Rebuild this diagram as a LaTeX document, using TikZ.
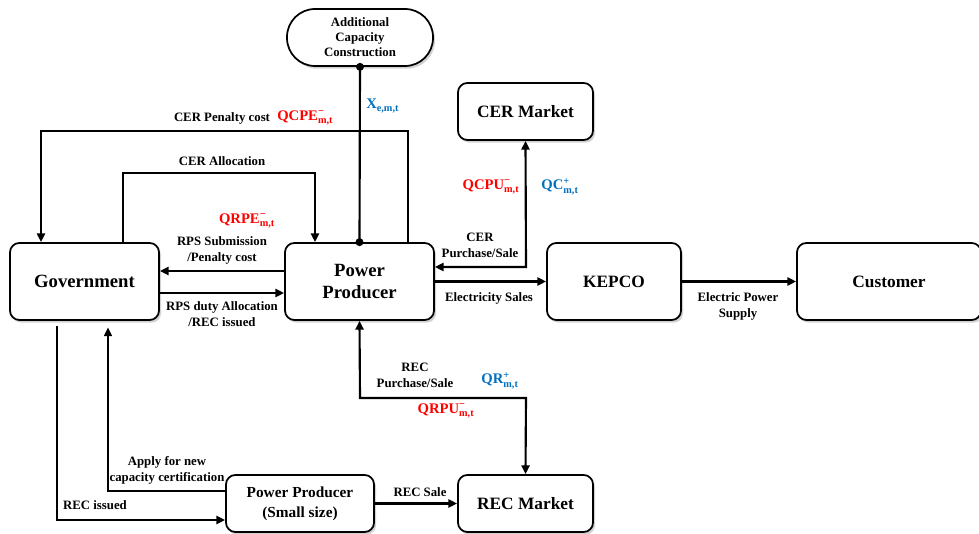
\documentclass[tikz,border=0pt]{standalone}
\usepackage{fontspec}
\usepackage{amsmath}
\setmainfont{Liberation Serif}
\usetikzlibrary{arrows.meta,shadows}
\definecolor{qred}{RGB}{255,0,0}
\definecolor{qblue}{RGB}{0,112,192}
\newcommand{\qlab}[3]{\textbf{#1$^{\text{\bfseries #2}}_{\text{\bfseries #3}}$}}
\begin{document}
\begin{tikzpicture}[x=0.75pt,y=-0.75pt,
  box/.style={draw=black, line width=1.3pt, rounded corners=7pt, fill=white,
    align=center, inner sep=0pt,
    drop shadow={shadow xshift=1.5pt, shadow yshift=-2pt, opacity=0.25, fill=black!70}},
  bigbox/.style={box, minimum width=111.75pt, minimum height=57.75pt, font=\bfseries\fontsize{14}{16}\selectfont},
  midbox/.style={box, minimum width=100.5pt, minimum height=57.75pt, font=\bfseries\fontsize{13}{15}\selectfont},
  mktbox/.style={box, minimum width=101.25pt, minimum height=42.75pt, font=\bfseries\fontsize{13}{15}\selectfont},
  link/.style={line width=1.6pt, -{Triangle[length=6.5pt,width=6pt]}},
  duallink/.style={line width=1.6pt, {Triangle[length=6.5pt,width=6pt]}-{Triangle[length=6.5pt,width=6pt]}},
  plain/.style={line width=1.6pt},
  lab/.style={font=\bfseries\fontsize{9.6}{12}\selectfont, align=center, inner sep=0pt},
  redlab/.style={text=qred, font=\fontsize{11}{13}\selectfont, inner sep=0pt},
  bluelab/.style={text=qblue, font=\fontsize{11}{13}\selectfont, inner sep=0pt}]
\useasboundingbox (0,0) rectangle (979,534);

% ---- boxes ----
\node[box, rounded corners=21pt, minimum width=109.5pt, minimum height=42.75pt,
      font=\bfseries\fontsize{9.6}{11.2}\selectfont] (acc) at (360,37.5)
      {Additional\\Capacity\\Construction};
\node[mktbox] (cerm) at (525.5,111.5) {CER Market};
\node[bigbox] (gov) at (84.5,281.5) {Government};
\node[bigbox, font=\bfseries\fontsize{14}{17}\selectfont] (pp) at (359.5,281.5) {Power\\Producer};
\node[midbox] (kepco) at (614,281.5) {KEPCO};
\node[midbox, minimum width=138pt] (cust) at (889,281.5) {Customer};
\node[box, minimum width=111pt, minimum height=42.75pt,
      font=\bfseries\fontsize{11.5}{15}\selectfont] (spp) at (300,503.5)
      {Power Producer\\(Small size)};
\node[mktbox] (recm) at (525.5,503.5) {REC Market};

% ---- bend points ----
\coordinate (penR) at (408,131);
\coordinate (penL) at (41,131);
\coordinate (allL) at (123,173);
\coordinate (allR) at (315,173);
\coordinate (issB) at (57,520);
\coordinate (appB) at (108,491);
\coordinate (recL) at (360,398);
\coordinate (recR) at (526,398);
\coordinate (cerB) at (526,267);

% ---- connectors ----
\draw[link] (pp.north -| penR) -- (penR) -- (penL) -- (gov.north -| penL);
\draw[link] (gov.north -| allL) -- (allL) -- (allR) -- (pp.north -| allR);
\draw[plain] (acc.south) -- (pp.north);
\fill (acc.south) circle (3pt);
\fill (pp.north) circle (3pt);
\draw[link] (pp.west |- 0,271) -- (gov.east |- 0,271);
\draw[link] (gov.east |- 0,293) -- (pp.west |- 0,293);
\draw[link, shorten <=4pt] (gov.south -| issB) -- (issB) -- (spp.west |- issB);
\draw[link, shorten >=5pt] (spp.west |- appB) -- (appB) -- (gov.south -| appB);
\draw[link] (spp.east) -- (recm.west);
\draw[duallink] (pp.south) -- (recL) -- (recR) -- (recm.north);
\draw[duallink] (cerm.south) -- (cerB) -- (pp.east |- cerB);
\draw[link] (pp.east) -- (kepco.west);
\draw[link] (kepco.east) -- (cust.west);

% ---- labels ----
\node[lab] (tPen) at (222,118) {CER Penalty cost};
\node[redlab, anchor=west] (qcpe) at (277,118) {\qlab{QCPE}{−}{m,t}};
\node[bluelab, anchor=west] (xemt) at (366,106) {\qlab{X}{}{e,m,t}};
\node[lab] (tAll) at (222,161) {CER Allocation};
\node[redlab] (qrpe) at (247,221) {\qlab{QRPE}{−}{m,t}};
\node[lab] (tSub) at (222,250) {RPS Submission\\/Penalty cost};
\node[lab] (tDuty) at (222,314) {RPS duty Allocation\\/REC issued};
\node[lab] (tCer) at (480,245) {CER\\Purchase/Sale};
\node[redlab] (qcpu) at (491,187) {\qlab{QCPU}{−}{m,t}};
\node[bluelab] (qc) at (560,187) {\qlab{QC}{+}{m,t}};
\node[lab] (tEl) at (489,298) {Electricity Sales};
\node[lab] (tSup) at (738,306) {Electric Power\\Supply};
\node[lab] (tRec) at (415,375) {REC\\Purchase/Sale};
\node[bluelab] (qr) at (500,381) {\qlab{QR}{+}{m,t}};
\node[redlab] (qrpu) at (446,411) {\qlab{QRPU}{−}{m,t}};
\node[lab] (tApp) at (167,470) {Apply for new\\capacity certification};
\node[lab] (tIss) at (95,505) {REC issued};
\node[lab] (tSale) at (420,492) {REC Sale};
\end{tikzpicture}
\end{document}
